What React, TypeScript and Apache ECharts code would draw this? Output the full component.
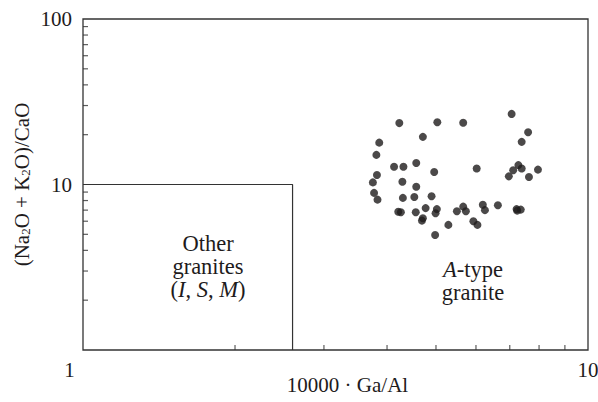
import React, { useEffect, useRef } from "react";
import * as echarts from "echarts";

const gaAl = [
  4.23, 5.03, 5.66, 7.06, 7.61, 7.39, 3.86, 4.71, 3.81, 4.13,
  4.31, 4.57, 4.96, 6.02, 7.28, 7.39, 7.11, 6.97, 7.64, 7.96,
  3.82, 3.75, 4.29, 4.57, 3.77, 3.83, 4.30, 4.53, 4.90, 4.21,
  4.26, 4.56, 4.77, 5.02, 4.99, 4.71, 4.69, 5.50, 5.66, 5.73,
  6.19, 6.25, 6.63, 7.22, 7.36, 7.24, 5.29, 5.93, 6.04, 4.98,
];
const alkCa = [
  23.5, 23.8, 23.6, 26.7, 20.7, 18.1, 17.9, 19.4, 15.1, 12.8,
  12.8, 13.5, 11.9, 12.5, 13.1, 12.5, 12.2, 11.2, 11.1, 12.3,
  11.4, 10.3, 10.4, 9.7, 8.9, 8.1, 8.3, 8.4, 8.5, 6.85,
  6.8, 6.8, 7.2, 7.1, 6.7, 6.25, 6.05, 6.9, 7.35, 6.9,
  7.55, 7.0, 7.5, 7.1, 7.05, 6.95, 5.7, 6.0, 5.7, 4.95,
];
const boundary = [
  [1, 10],
  [2.6, 10],
  [2.6, 1],
];
const xMinorTicks = [2, 3, 4, 5, 6, 7, 8, 9];
const yMinorTicks = [2, 3, 4, 5, 6, 7, 8, 9, 20, 30, 40, 50, 60, 70, 80, 90];

const FONT = "Liberation Serif, Times New Roman, serif";
const INK = "#1e1b1c";
const AXIS = "#333333";
const ANN = 22.5;
const LH = 23;

const richText = {
  n: { fontFamily: FONT, fontSize: ANN, color: INK, fill: INK, lineHeight: LH },
  i: { fontFamily: FONT, fontSize: ANN, fontStyle: "italic", color: INK, fill: INK, lineHeight: LH },
};

export default function App() {
  const ref = useRef<HTMLDivElement>(null);
  useEffect(() => {
    document.body.style.margin = "0";
    if (!ref.current) return;
    const chart = echarts.init(ref.current, null, { renderer: "svg" });
    chart.setOption({
      animation: false,
      backgroundColor: "#ffffff",
      textStyle: { fontFamily: FONT },
      grid: {
        left: 83,
        right: 10,
        top: 19,
        bottom: 52,
        containLabel: false,
        outerBoundsMode: "none",
        show: true,
        borderColor: AXIS,
        borderWidth: 1.3,
        backgroundColor: "transparent",
      },
      xAxis: {
        type: "log",
        logBase: 10,
        min: 1,
        max: 10,
        name: "10000 · Ga/Al",
        nameLocation: "middle",
        nameGap: 24,
        nameMoveOverlap: false,
        nameTextStyle: {
          fontFamily: FONT,
          fontSize: 21,
          color: INK,
          padding: [0, 0, 0, 24],
        },
        axisLine: { show: false },
        axisTick: { show: false },
        splitLine: { show: false },
        axisLabel: {
          margin: 9,
          fontFamily: FONT,
          fontSize: 21,
          color: INK,
          formatter: (v: number) => (Math.abs(v - 1) < 1e-6 ? "{l|1}" : String(Math.round(v))),
          rich: {
            l: { fontFamily: FONT, fontSize: 21, color: INK, padding: [0, 27, 0, 0] },
          },
        },
      },
      yAxis: {
        type: "log",
        logBase: 10,
        min: 1,
        max: 100,
        name: "(Na{s|2}O + K{s|2}O)/CaO",
        nameLocation: "middle",
        nameGap: 51,
        nameRotate: 90,
        nameMoveOverlap: false,
        nameTextStyle: {
          fontFamily: FONT,
          fontSize: 21,
          color: INK,
          rich: {
            s: { fontFamily: FONT, fontSize: 13, color: INK, verticalAlign: "bottom", padding: [8, 0, 0, 0] },
          },
        },
        axisLine: { show: false },
        axisTick: { show: false },
        splitLine: { show: false },
        axisLabel: {
          margin: 11,
          fontFamily: FONT,
          fontSize: 21,
          color: INK,
          formatter: (v: number) => (Math.abs(v - 1) < 1e-6 ? "" : String(Math.round(v))),
        },
      },
      graphic: [
        {
          type: "text",
          x: 208,
          y: 266,
          style: {
            text: "{n|Other}\n{n|granites}\n{n|(}{i|I}{n|, }{i|S}{n|, }{i|M}{n|)}",
            fontFamily: FONT,
            fontSize: ANN,
            lineHeight: LH,
            fill: INK,
            align: "center",
            verticalAlign: "middle",
            rich: richText,
          },
        },
        {
          type: "text",
          x: 473,
          y: 281,
          style: {
            text: "{i|A}{n|-type}\n{n|granite}",
            fontFamily: FONT,
            fontSize: ANN,
            lineHeight: LH,
            fill: INK,
            align: "center",
            verticalAlign: "middle",
            rich: richText,
          },
        },
      ],
      series: [
        {
          type: "line",
          data: boundary,
          symbol: "none",
          lineStyle: { color: AXIS, width: 1.2 },
          silent: true,
          z: 3,
        },
        {
          type: "scatter",
          data: xMinorTicks.map((v) => [v, 1]),
          symbol: "rect",
          symbolSize: [1.2, 5],
          symbolOffset: [0, -2.5],
          itemStyle: { color: AXIS },
          silent: true,
          z: 4,
        },
        {
          type: "scatter",
          data: yMinorTicks.map((v) => [1, v]),
          symbol: "rect",
          symbolSize: [5, 1.2],
          symbolOffset: [2.5, 0],
          itemStyle: { color: AXIS },
          silent: true,
          z: 4,
        },
        {
          type: "scatter",
          data: gaAl.map((x, i) => [x, alkCa[i]]),
          symbol: "circle",
          symbolSize: 8,
          itemStyle: { color: INK },
          z: 5,
        },
      ],
    });
    return () => chart.dispose();
  }, []);
  return <div ref={ref} style={{ width: 598, height: 402 }} />;
}
